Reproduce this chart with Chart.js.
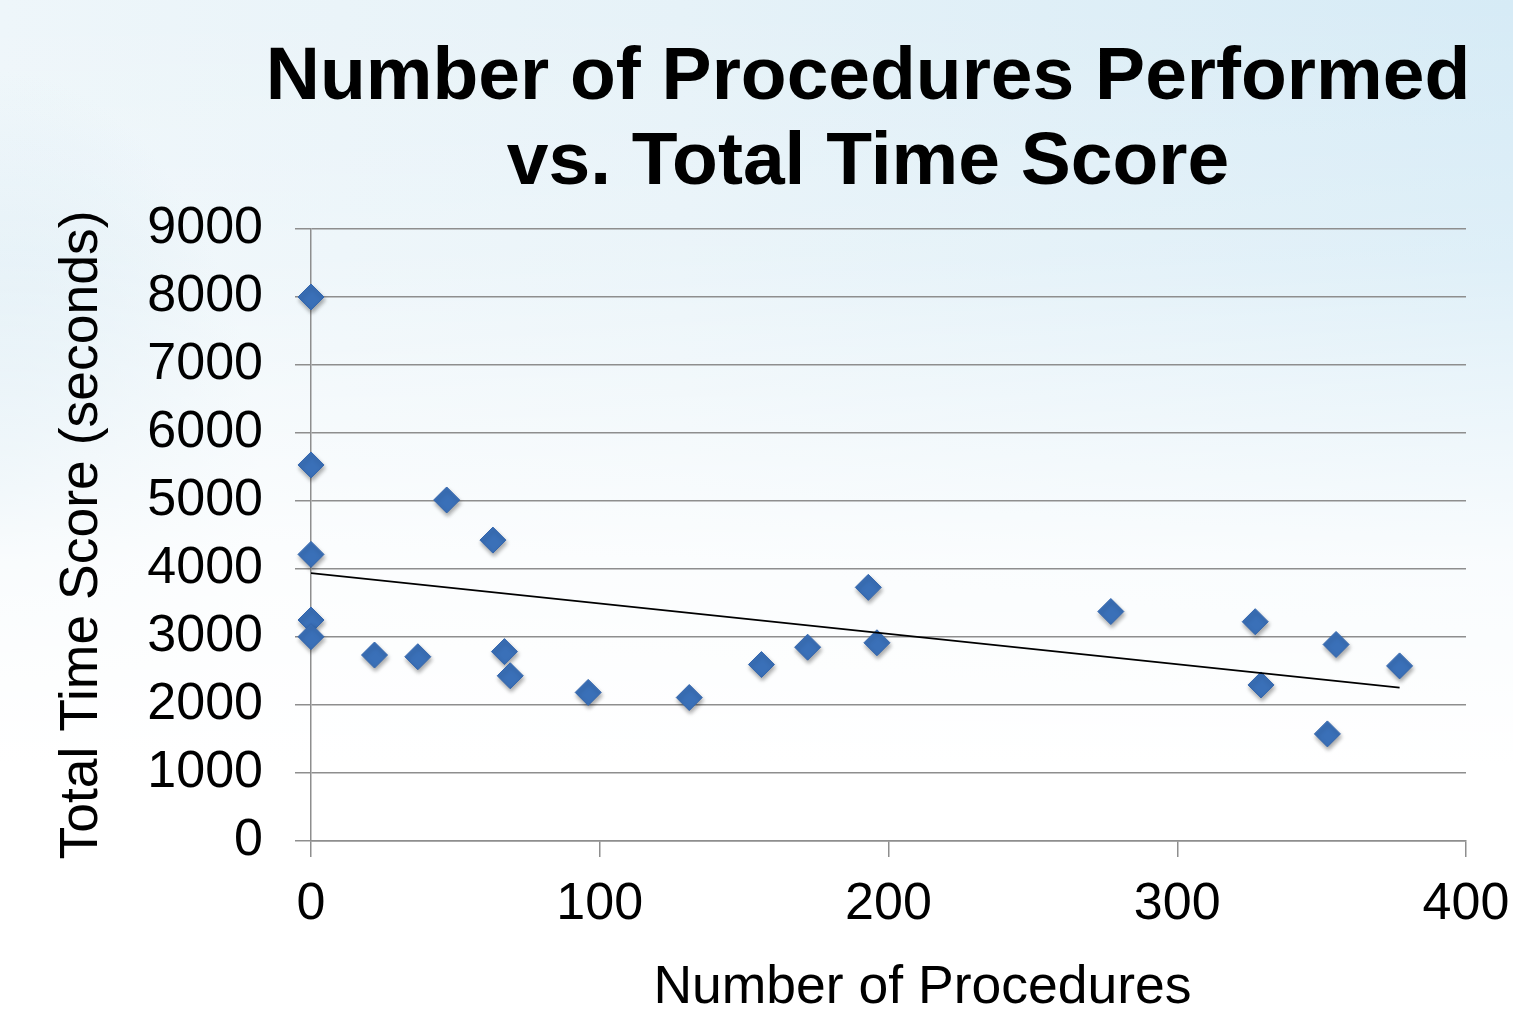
<!DOCTYPE html>
<html>
<head>
<meta charset="utf-8">
<script src="https://cdn.jsdelivr.net/npm/chart.js@4/dist/chart.umd.min.js"></script>
<style>
  html, body { margin: 0; padding: 0; }
  body {
    width: 1513px; height: 1023px; overflow: hidden; position: relative;
    background:
      linear-gradient(180deg, rgba(255,255,255,0) 0%, rgba(255,255,255,0.2) 25%, rgba(255,255,255,0.85) 55%, #ffffff 75%),
      radial-gradient(ellipse 260px 420px at 0% 48%, rgba(205,228,240,0.8), rgba(205,228,240,0) 100%),
      linear-gradient(90deg, #eef6fa 0%, #e6f2f8 45%, #d6ebf6 100%);
  }
  #title {
    position: absolute; left: 0; top: 31px; width: 1736px;
    text-align: center; font: bold 75px 'Liberation Sans', Arial, sans-serif;
    line-height: 85px; color: #000; margin: 0;
  }
  #wrap { position: absolute; left: 0; top: 0; width: 1513px; height: 1023px; }
</style>
</head>
<body>
<div id="title">Number of Procedures Performed<br>vs. Total Time Score</div>
<div id="wrap"><canvas id="chart"></canvas></div>
<script>
// 데이터
const procedures = [0, 0, 0, 0, 0, 22, 37, 47, 63, 67, 69, 96, 131, 156, 172, 193, 196, 277, 327, 329, 355, 352, 377];
const timeScores = [8000, 5530, 4215, 3250, 3005, 2735, 2710, 5015, 4425, 2785, 2430, 2185, 2110, 2595, 2850, 3730, 2915, 3375, 3225, 2295, 2890, 1575, 2575];
const trendX = [0, 377];
const trendY = [3940, 2255];
const xTicks = [0, 100, 200, 300, 400];
const yTicks = [0, 1000, 2000, 3000, 4000, 5000, 6000, 7000, 8000, 9000];

const xTitle = 'Number of Procedures';
const yTitle = 'Total Time Score (seconds)';

const gridColor = '#8e8e8e';
const font = 'Liberation Sans, Arial, sans-serif';

// 마커 그림자
const shadowPlugin = {
  id: 'markerShadow',
  beforeDatasetDraw(chart, args) {
    if (args.index !== 0) return;
    const c = chart.ctx;
    c.save();
    c.shadowColor = 'rgba(0,0,0,0.35)';
    c.shadowBlur = 4;
    c.shadowOffsetX = 1;
    c.shadowOffsetY = 3;
  },
  afterDatasetDraw(chart, args) {
    if (args.index !== 0) return;
    chart.ctx.restore();
  }
};

// X축 제목 (엑셀처럼 약간 오른쪽)
const xTitlePlugin = {
  id: 'xTitle',
  afterDraw(chart) {
    const c = chart.ctx;
    const area = chart.chartArea;
    c.save();
    c.font = '53.5px ' + font;
    c.fillStyle = '#000';
    c.textAlign = 'center';
    c.textBaseline = 'middle';
    c.fillText(xTitle, (area.left + area.right) / 2 + 34, 988);
    c.restore();
  }
};

const ctx = document.getElementById('chart').getContext('2d');
new Chart(ctx, {
  type: 'scatter',
  data: {
    datasets: [{
      label: 'Time Score',
      data: procedures.map((x, i) => ({ x: x, y: timeScores[i] })),
      pointStyle: 'rectRot',
      pointRadius: 13,
      pointHoverRadius: 13,
      backgroundColor: '#3a70b8',
      borderColor: '#3466ad',
      borderWidth: 1,
      clip: false,
      order: 1
    }, {
      type: 'line',
      label: 'Trend',
      data: trendX.map((x, i) => ({ x: x, y: trendY[i] })),
      borderColor: '#000',
      borderWidth: 1.6,
      pointRadius: 0,
      fill: false,
      order: 0
    }]
  },
  options: {
    responsive: true,
    maintainAspectRatio: false,
    devicePixelRatio: 1,
    animation: false,
    layout: { padding: { top: 229, right: 47, bottom: 0, left: 0 } },
    plugins: {
      legend: { display: false },
      tooltip: { enabled: false }
    },
    scales: {
      x: {
        type: 'linear',
        min: 0,
        max: 400,
        afterFit(scale) {
          scale.height = 182;
          scale.paddingLeft = 0;
          scale.paddingRight = 0;
        },
        afterBuildTicks(scale) { scale.ticks = xTicks.map(v => ({ value: v })); },
        grid: { drawOnChartArea: false, drawTicks: true, tickLength: 16, color: gridColor, lineWidth: 1.5 },
        border: { display: true, color: gridColor, width: 1.5 },
        ticks: { color: '#000', font: { family: font, size: 52 }, padding: 16, callback: v => String(v) },
        title: { display: false }
      },
      y: {
        type: 'linear',
        min: 0,
        max: 9000,
        afterFit(scale) { scale.width = 311; },
        afterBuildTicks(scale) { scale.ticks = yTicks.map(v => ({ value: v })); },
        grid: { drawTicks: true, tickLength: 16, color: gridColor, lineWidth: 1.5 },
        border: { display: true, color: gridColor, width: 1.5 },
        ticks: { color: '#000', font: { family: font, size: 52 }, padding: 32, callback: v => String(v) },
        title: {
          display: true,
          text: yTitle,
          color: '#000',
          font: { family: font, size: 53.5 },
          padding: { top: 50, bottom: 0 }
        }
      }
    }
  },
  plugins: [shadowPlugin, xTitlePlugin]
});
</script>
</body>
</html>
